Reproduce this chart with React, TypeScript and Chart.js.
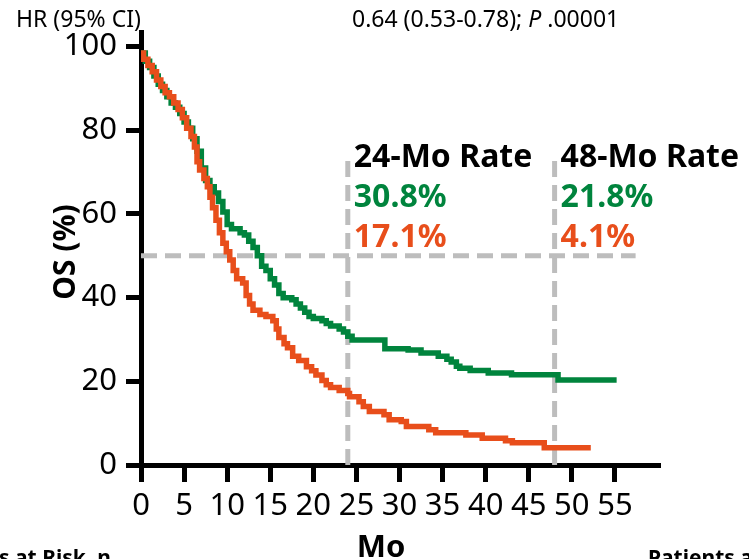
import React, { useEffect, useRef } from 'react';
import { Chart, registerables } from 'chart.js';

Chart.register(...registerables);

// Kaplan-Meier curves (months, OS %)
const greenTimes = [0, 0.5, 1, 1.5, 2, 2.5, 3, 3.5, 4, 4.5, 5, 5.5, 6, 6.5, 7, 7.5, 8, 8.5, 9, 9.5, 10, 10.5, 11.5, 12, 12.5, 13, 13.5, 14, 14.5, 15, 15.5, 16, 16.5, 17.5, 18, 18.5, 19, 19.5, 20, 21, 21.5, 22, 23, 23.5, 24, 24.5, 28.3, 31, 32.5, 34.5, 35.5, 36, 36.6, 37, 38.2, 40.3, 43, 48.4, 55.2];
const greenSurv = [98.5, 96.5, 95, 93, 91, 89.5, 88, 86.5, 85.5, 84, 82, 80.5, 78, 75, 71, 68, 66.5, 65, 63, 60.5, 57.5, 56.5, 55.5, 55, 53.5, 52, 50, 47.5, 46.5, 44.5, 43, 41, 40, 39.5, 38.5, 37.5, 36.5, 35.5, 35, 34.5, 33.8, 33.2, 32.5, 31.8, 30.8, 29.9, 27.8, 27.5, 26.8, 26, 25.3, 24.6, 23.6, 23.1, 22.6, 22, 21.6, 20.3, 20.3];

const orangeTimes = [0, 0.3, 0.8, 1.3, 1.8, 2.3, 2.8, 3.3, 3.8, 4.3, 4.8, 5.3, 5.8, 6.2, 6.5, 6.8, 7.3, 7.7, 8, 8.3, 8.7, 9.1, 9.5, 9.9, 10.3, 10.7, 11.1, 11.8, 12.2, 12.6, 13, 13.8, 14.5, 15.3, 15.7, 16, 16.6, 17, 17.6, 18.3, 19.2, 19.8, 20.3, 21, 21.5, 22, 23, 24, 24.2, 25.3, 25.8, 26.5, 28.2, 28.8, 30.2, 30.8, 33.4, 34.2, 37.7, 39.6, 42.3, 43.1, 46.8, 52.2];
const orangeSurv = [98.5, 97, 95.5, 94, 92, 90.5, 89, 88, 86.5, 85, 83, 80.5, 78.5, 76, 72.5, 70.5, 68.5, 66.5, 64, 61.5, 58.5, 55.5, 53, 51, 49, 46.5, 44.5, 43.5, 40.5, 38.5, 37, 36, 35.5, 34.5, 32.5, 30.5, 29, 28, 26, 25, 23.5, 22.5, 21.5, 20.2, 19.2, 18.5, 17.8, 17.1, 16.3, 15.1, 14, 12.8, 12, 10.8, 10.4, 9.2, 8.4, 7.7, 7.2, 6.4, 5.8, 5.3, 4.1, 4.1];

// Reference (dashed) lines
const medianLevel = 50;
const medianLineEnd = 57.4;
const rateTimes = [24, 48];
const rateLineTop = 73;

// Texts
const rateTitles = ['24-Mo Rate', '48-Mo Rate'];
const greenRates = ['30.8%', '21.8%'];
const orangeRates = ['17.1%', '4.1%'];
const hrLabel = 'HR (95% CI)';
const hrValue = '0.64 (0.53-0.78); ';
const pLabel = 'P';
const pValue = ' .00001';
const xTitle = 'Mo';
const yTitle = 'OS (%)';
const leftFooter = 's at Risk, n';
const rightFooter = 'Patients a';

const GREEN = '#00843D';
const ORANGE = '#E84E1B';
const GRAY = '#BDBDBD';
const FONT = '"Noto Sans", "DejaVu Sans", sans-serif';

export default function App() {
  const ref = useRef<HTMLCanvasElement>(null);

  useEffect(() => {
    const canvas = ref.current;
    if (!canvas) return;

    const textPlugin = {
      id: 'textPlugin',
      afterDraw(chart: any) {
        const ctx = chart.ctx as CanvasRenderingContext2D;
        const xs = chart.scales.x;
        ctx.save();
        ctx.textBaseline = 'alphabetic';
        ctx.textAlign = 'left';
        ctx.fillStyle = '#000';

        // header
        ctx.font = `23px ${FONT}`;
        ctx.fillText(hrLabel, 16, 27);
        let px = 352;
        ctx.fillText(hrValue, px, 27);
        px += ctx.measureText(hrValue).width;
        ctx.font = `italic 23px ${FONT}`;
        ctx.fillText(pLabel, px, 27);
        px += ctx.measureText(pLabel).width;
        ctx.font = `23px ${FONT}`;
        ctx.fillText(pValue, px, 27);

        // rate annotations
        ctx.font = `bold 32px ${FONT}`;
        rateTimes.forEach((t, i) => {
          const x = xs.getPixelForValue(t) + 6;
          ctx.fillStyle = '#000';
          ctx.fillText(rateTitles[i], x, 167);
          ctx.fillStyle = GREEN;
          ctx.fillText(greenRates[i], x, 207);
          ctx.fillStyle = ORANGE;
          ctx.fillText(orangeRates[i], x, 247);
        });

        // axis titles
        ctx.fillStyle = '#000';
        ctx.font = `bold 31px ${FONT}`;
        ctx.textAlign = 'center';
        ctx.fillText(xTitle, 381, 557);
        ctx.save();
        ctx.translate(75, 252);
        ctx.rotate(-Math.PI / 2);
        ctx.font = `bold 30px ${FONT}`;
        ctx.fillText(yTitle, 0, 0);
        ctx.restore();

        // footers (cut off by the picture edge)
        ctx.font = `bold 21px ${FONT}`;
        ctx.textAlign = 'left';
        ctx.fillText(leftFooter, -1, 565);
        ctx.fillText(rightFooter, 648, 565);
        ctx.restore();
      },
    };

    const km = (times: number[], surv: number[]) => times.map((t, i) => ({ x: t, y: surv[i] }));
    const dashed = {
      borderColor: GRAY,
      borderWidth: 5,
      borderDash: [16, 8],
      pointRadius: 0,
      fill: false,
    };

    const chart = new Chart(canvas, {
      type: 'line',
      data: {
        datasets: [
          {
            label: 'Orange arm',
            data: km(orangeTimes, orangeSurv),
            stepped: true,
            borderColor: ORANGE,
            borderWidth: 5.5,
            pointRadius: 0,
            fill: false,
            order: 0,
          },
          {
            label: 'Green arm',
            data: km(greenTimes, greenSurv),
            stepped: true,
            borderColor: GREEN,
            borderWidth: 5.5,
            pointRadius: 0,
            fill: false,
            order: 1,
          },
          {
            label: 'median',
            data: [{ x: 0, y: medianLevel }, { x: medianLineEnd, y: medianLevel }],
            ...dashed,
            order: 2,
          },
          ...rateTimes.map((t, i) => ({
            label: 'rate' + i,
            data: [{ x: t, y: 0 }, { x: t, y: rateLineTop }],
            ...dashed,
            order: 3 + i,
          })),
        ] as any,
      },
      options: {
        responsive: false,
        animation: false,
        devicePixelRatio: 1,
        layout: { padding: { left: 0, top: 32, right: 91, bottom: 0 } },
        plugins: {
          legend: { display: false },
          tooltip: { enabled: false },
        },
        scales: {
          x: {
            type: 'linear',
            min: 0,
            max: 60,
            afterBuildTicks: (s: any) => {
              s.ticks = s.ticks.filter((t: any) => t.value <= 55);
            },
            afterFit: (s: any) => {
              s.height = 94;
            },
            ticks: {
              stepSize: 5,
              includeBounds: false,
              autoSkip: false,
              maxRotation: 0,
              minRotation: 0,
              color: '#000',
              padding: 6,
              font: { family: FONT, size: 31 },
            },
            grid: {
              drawOnChartArea: false,
              drawTicks: true,
              tickLength: 17,
              lineWidth: 5,
              color: '#000',
            },
            border: { display: true, width: 5, color: '#000' },
          },
          y: {
            type: 'linear',
            min: 0,
            max: 103.5,
            afterBuildTicks: (s: any) => {
              s.ticks = s.ticks.filter((t: any) => t.value <= 100);
            },
            afterFit: (s: any) => {
              s.width = 141;
            },
            ticks: {
              stepSize: 20,
              includeBounds: false,
              color: '#000',
              padding: 9,
              font: { family: FONT, size: 31 },
            },
            grid: {
              drawOnChartArea: false,
              drawTicks: true,
              tickLength: 15,
              lineWidth: 5,
              color: '#000',
            },
            border: { display: true, width: 5, color: '#000' },
          },
        },
      } as any,
      plugins: [textPlugin],
    });

    return () => chart.destroy();
  }, []);

  return (
    <div style={{ position: 'fixed', left: 0, top: 0, width: 749, height: 559, background: '#fff' }}>
      <canvas ref={ref} width={749} height={559} style={{ display: 'block' }} />
    </div>
  );
}
